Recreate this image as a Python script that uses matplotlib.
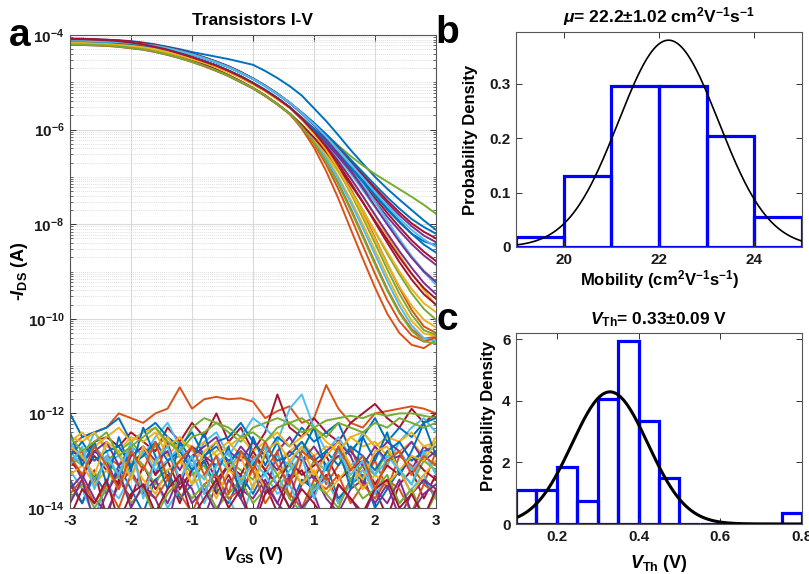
import numpy as np
import matplotlib
matplotlib.use('Agg')
import matplotlib.pyplot as plt
from matplotlib.ticker import FixedLocator, FuncFormatter, NullFormatter

plt.rcParams['font.family'] = ['Liberation Sans', 'DejaVu Sans']
plt.rcParams['font.weight'] = 'bold'
plt.rcParams['axes.labelweight'] = 'bold'
plt.rcParams['axes.titleweight'] = 'bold'
plt.rcParams['axes.unicode_minus'] = False
plt.rcParams['mathtext.fontset'] = 'custom'
plt.rcParams['mathtext.rm'] = 'Liberation Sans:bold'
plt.rcParams['mathtext.it'] = 'Liberation Sans:bold:italic'
plt.rcParams['mathtext.bf'] = 'Liberation Sans:bold'
plt.rcParams['mathtext.sf'] = 'Liberation Sans:bold'

# ---------------- data ----------------
vgs = [-3.0, -2.8, -2.6, -2.4, -2.2, -2.0, -1.8, -1.6, -1.4, -1.2, -1.0, -0.8, -0.6, -0.4, -0.2,
       0.0, 0.2, 0.4, 0.6, 0.8, 1.0, 1.2, 1.4, 1.6, 1.8, 2.0, 2.2, 2.4, 2.6, 2.8, 3.0]

# log10(-I_DS) transfer curves
ids_01 = [-4.08,-4.08,-4.09,-4.10,-4.11,-4.13,-4.16,-4.20,-4.25,-4.30,-4.36,-4.41,-4.46,-4.51,-4.57,-4.63,-4.76,-4.91,-5.08,-5.28,-5.55,-5.82,-6.12,-6.43,-6.72,-7.00,-7.25,-7.48,-7.70,-7.92,-8.12]
ids_02 = [-4.20,-4.20,-4.21,-4.22,-4.24,-4.27,-4.30,-4.35,-4.41,-4.48,-4.56,-4.65,-4.75,-4.86,-4.99,-5.12,-5.28,-5.46,-5.66,-5.98,-6.38,-6.88,-7.46,-8.10,-8.73,-9.34,-9.89,-10.30,-10.55,-10.62,-10.45]
ids_03 = [-4.15,-4.15,-4.16,-4.17,-4.19,-4.21,-4.24,-4.28,-4.33,-4.40,-4.48,-4.56,-4.65,-4.76,-4.88,-5.02,-5.17,-5.34,-5.53,-5.77,-6.03,-6.33,-6.66,-7.02,-7.41,-7.82,-8.24,-8.65,-9.04,-9.39,-9.72]
ids_04 = [-4.10,-4.10,-4.11,-4.12,-4.13,-4.15,-4.18,-4.21,-4.26,-4.32,-4.40,-4.48,-4.57,-4.67,-4.79,-4.92,-5.07,-5.24,-5.43,-5.65,-5.88,-6.13,-6.40,-6.69,-6.98,-7.27,-7.55,-7.81,-8.04,-8.24,-8.38]
ids_05 = [-4.11,-4.11,-4.12,-4.13,-4.14,-4.16,-4.19,-4.22,-4.27,-4.33,-4.41,-4.49,-4.58,-4.68,-4.80,-4.93,-5.08,-5.25,-5.43,-5.64,-5.86,-6.10,-6.34,-6.56,-6.76,-6.94,-7.10,-7.26,-7.42,-7.59,-7.78]
ids_06 = [-4.16,-4.16,-4.17,-4.18,-4.20,-4.22,-4.25,-4.29,-4.34,-4.41,-4.49,-4.57,-4.66,-4.77,-4.89,-5.03,-5.18,-5.35,-5.53,-5.76,-6.01,-6.29,-6.60,-6.93,-7.28,-7.64,-8.00,-8.35,-8.68,-8.98,-9.22]
ids_07 = [-4.09,-4.09,-4.10,-4.11,-4.12,-4.14,-4.17,-4.21,-4.26,-4.32,-4.39,-4.47,-4.56,-4.66,-4.78,-4.92,-5.07,-5.24,-5.43,-5.64,-5.87,-6.12,-6.38,-6.66,-6.95,-7.23,-7.50,-7.75,-7.98,-8.16,-8.30]
ids_08 = [-4.10,-4.10,-4.11,-4.12,-4.14,-4.16,-4.19,-4.22,-4.27,-4.33,-4.40,-4.48,-4.57,-4.67,-4.79,-4.92,-5.07,-5.24,-5.43,-5.64,-5.86,-6.10,-6.36,-6.63,-6.90,-7.17,-7.43,-7.67,-7.89,-8.06,-8.20]
ids_09 = [-4.19,-4.19,-4.20,-4.21,-4.23,-4.26,-4.29,-4.34,-4.40,-4.47,-4.55,-4.64,-4.74,-4.85,-4.98,-5.12,-5.28,-5.46,-5.66,-5.93,-6.26,-6.66,-7.13,-7.66,-8.23,-8.81,-9.37,-9.85,-10.22,-10.42,-10.38]
ids_10 = [-4.20,-4.20,-4.21,-4.22,-4.24,-4.27,-4.30,-4.35,-4.41,-4.48,-4.56,-4.65,-4.75,-4.86,-4.99,-5.12,-5.28,-5.46,-5.66,-5.91,-6.22,-6.58,-7.00,-7.48,-8.00,-8.55,-9.10,-9.62,-10.04,-10.31,-10.36]
ids_11 = [-4.15,-4.15,-4.16,-4.17,-4.19,-4.21,-4.24,-4.28,-4.33,-4.40,-4.48,-4.56,-4.65,-4.76,-4.88,-5.02,-5.17,-5.34,-5.53,-5.77,-6.04,-6.34,-6.67,-7.03,-7.41,-7.80,-8.19,-8.57,-8.92,-9.24,-9.48]
ids_12 = [-4.19,-4.19,-4.20,-4.21,-4.23,-4.26,-4.29,-4.34,-4.40,-4.47,-4.55,-4.64,-4.74,-4.86,-4.99,-5.12,-5.28,-5.46,-5.66,-5.90,-6.18,-6.50,-6.86,-7.26,-7.70,-8.16,-8.62,-9.06,-9.46,-9.79,-10.02]
ids_13 = [-4.21,-4.21,-4.22,-4.23,-4.25,-4.28,-4.31,-4.36,-4.42,-4.49,-4.57,-4.66,-4.76,-4.87,-5.00,-5.13,-5.29,-5.47,-5.66,-5.92,-6.23,-6.60,-7.04,-7.54,-8.08,-8.64,-9.20,-9.72,-10.14,-10.41,-10.47]
ids_14 = [-4.08,-4.08,-4.09,-4.10,-4.12,-4.14,-4.18,-4.23,-4.29,-4.37,-4.46,-4.55,-4.65,-4.76,-4.88,-5.02,-5.17,-5.34,-5.53,-5.75,-5.99,-6.25,-6.53,-6.83,-7.14,-7.45,-7.76,-8.06,-8.34,-8.58,-8.78]
ids_15 = [-4.14,-4.14,-4.15,-4.16,-4.18,-4.20,-4.23,-4.27,-4.32,-4.39,-4.47,-4.55,-4.64,-4.75,-4.87,-5.01,-5.16,-5.33,-5.53,-5.75,-5.98,-6.23,-6.50,-6.78,-7.07,-7.37,-7.66,-7.94,-8.20,-8.43,-8.60]
ids_16 = [-4.17,-4.17,-4.18,-4.19,-4.21,-4.23,-4.26,-4.30,-4.35,-4.42,-4.50,-4.58,-4.67,-4.78,-4.90,-5.03,-5.18,-5.35,-5.53,-5.78,-6.06,-6.40,-6.80,-7.26,-7.76,-8.29,-8.83,-9.35,-9.81,-10.16,-10.30]
ids_17 = [-4.18,-4.18,-4.19,-4.20,-4.22,-4.25,-4.28,-4.33,-4.39,-4.46,-4.54,-4.63,-4.73,-4.85,-4.98,-5.12,-5.28,-5.46,-5.66,-5.91,-6.20,-6.53,-6.90,-7.30,-7.72,-8.15,-8.58,-9.00,-9.37,-9.67,-9.86]
ids_18 = [-4.13,-4.13,-4.14,-4.15,-4.17,-4.19,-4.22,-4.26,-4.32,-4.39,-4.47,-4.56,-4.65,-4.76,-4.88,-5.02,-5.17,-5.34,-5.53,-5.76,-6.01,-6.28,-6.57,-6.88,-7.20,-7.52,-7.84,-8.14,-8.42,-8.66,-8.86]
ids_19 = [-4.16,-4.16,-4.17,-4.18,-4.20,-4.22,-4.25,-4.29,-4.34,-4.41,-4.49,-4.57,-4.66,-4.77,-4.89,-5.03,-5.18,-5.35,-5.53,-5.79,-6.08,-6.44,-6.86,-7.34,-7.86,-8.40,-8.95,-9.47,-9.91,-10.24,-10.34]
ids_20 = [-4.12,-4.12,-4.13,-4.14,-4.15,-4.17,-4.20,-4.23,-4.28,-4.34,-4.41,-4.49,-4.58,-4.68,-4.80,-4.93,-5.08,-5.25,-5.43,-5.65,-5.89,-6.16,-6.46,-6.79,-7.15,-7.53,-7.92,-8.31,-8.68,-9.01,-9.28]
ids_21 = [-4.10,-4.10,-4.11,-4.13,-4.16,-4.19,-4.23,-4.28,-4.35,-4.43,-4.52,-4.62,-4.73,-4.85,-4.98,-5.12,-5.28,-5.46,-5.66,-5.90,-6.17,-6.47,-6.80,-7.16,-7.54,-7.93,-8.32,-8.70,-9.05,-9.35,-9.58]
ids_22 = [-4.14,-4.14,-4.15,-4.16,-4.18,-4.20,-4.23,-4.27,-4.32,-4.39,-4.47,-4.55,-4.64,-4.75,-4.87,-5.01,-5.16,-5.33,-5.52,-5.75,-5.99,-6.24,-6.51,-6.80,-7.10,-7.40,-7.69,-7.96,-8.20,-8.36,-8.45]
ids_23 = [-4.21,-4.21,-4.22,-4.23,-4.25,-4.28,-4.31,-4.36,-4.42,-4.49,-4.57,-4.66,-4.76,-4.87,-5.00,-5.13,-5.29,-5.47,-5.67,-5.95,-6.30,-6.74,-7.26,-7.84,-8.45,-9.05,-9.60,-10.05,-10.35,-10.48,-10.40]
ids_24 = [-4.17,-4.17,-4.18,-4.19,-4.21,-4.23,-4.26,-4.30,-4.36,-4.43,-4.51,-4.59,-4.68,-4.79,-4.91,-5.04,-5.19,-5.36,-5.54,-5.79,-6.08,-6.43,-6.84,-7.30,-7.80,-8.32,-8.84,-9.32,-9.72,-10.02,-10.18]
ids_25 = [-4.11,-4.11,-4.12,-4.13,-4.15,-4.17,-4.20,-4.23,-4.28,-4.34,-4.41,-4.49,-4.58,-4.68,-4.80,-4.93,-5.08,-5.25,-5.44,-5.66,-5.91,-6.20,-6.52,-6.87,-7.24,-7.62,-8.00,-8.37,-8.71,-9.00,-9.22]
ids_26 = [-4.20,-4.20,-4.21,-4.22,-4.24,-4.27,-4.30,-4.35,-4.41,-4.48,-4.56,-4.65,-4.75,-4.86,-4.99,-5.12,-5.28,-5.46,-5.66,-5.94,-6.27,-6.68,-7.16,-7.70,-8.27,-8.85,-9.40,-9.88,-10.25,-10.48,-10.52]
ids_27 = [-4.12,-4.12,-4.13,-4.14,-4.15,-4.17,-4.20,-4.23,-4.28,-4.34,-4.41,-4.49,-4.58,-4.68,-4.80,-4.93,-5.08,-5.25,-5.43,-5.65,-5.89,-6.15,-6.43,-6.72,-7.02,-7.32,-7.61,-7.88,-8.12,-8.32,-8.48]
ids_28 = [-4.09,-4.09,-4.10,-4.11,-4.13,-4.16,-4.20,-4.25,-4.31,-4.39,-4.47,-4.56,-4.65,-4.76,-4.88,-5.02,-5.17,-5.34,-5.53,-5.77,-6.05,-6.37,-6.73,-7.12,-7.53,-7.96,-8.39,-8.80,-9.17,-9.48,-9.70]

# log10 of leakage currents (noise floor)
ig_01 = [-12.7,-12.5,-12.4,-12.3,-12.0,-12.1,-12.2,-12.0,-11.9,-11.45,-11.9,-11.7,-11.65,-11.7,-11.68,-11.75,-12.1,-11.95,-11.85,-12.2,-12.1,-11.4,-11.9,-12.2,-12.3,-12.0,-11.95,-11.9,-11.85,-11.9,-12.0]
ig_02 = [-12.8,-12.9,-12.6,-12.5,-12.7,-12.4,-12.6,-12.8,-12.3,-12.6,-12.2,-12.5,-12.0,-12.6,-12.3,-12.8,-12.4,-11.6,-12.3,-12.5,-12.1,-12.4,-12.6,-12.2,-12.0,-11.8,-12.1,-12.3,-11.9,-12.2,-12.0]
ig_03 = [-12.9,-13.1,-12.7,-13.0,-12.8,-12.6,-12.9,-12.7,-12.5,-12.8,-12.3,-12.1,-12.2,-12.4,-12.6,-12.3,-12.2,-12.1,-12.2,-12.1,-12.3,-12.15,-12.1,-12.05,-12.1,-12.0,-12.05,-12.0,-12.0,-12.05,-12.1]
ig_04 = [-12.6,-13.0,-12.4,-12.8,-13.4,-12.7,-12.9,-12.5,-12.2,-12.7,-13.2,-12.6,-12.4,-12.9,-12.5,-12.1,-12.3,-12.6,-11.9,-11.6,-12.3,-12.8,-12.5,-12.9,-12.4,-12.7,-13.1,-12.6,-12.3,-12.1,-12.4]
ig_05 = [-12.0,-12.5,-12.4,-12.3,-12.1,-12.6,-12.4,-12.2,-12.5,-12.7,-12.4,-12.9,-12.6,-12.5,-12.2,-12.6,-12.9,-12.5,-12.7,-12.3,-12.6,-12.4,-12.2,-12.8,-12.5,-12.1,-12.6,-12.3,-12.5,-12.2,-12.1]
ig_06 = [-12.5,-12.6,-12.4,-12.7,-12.8,-12.5,-12.6,-12.4,-12.9,-12.6,-12.7,-13.0,-12.8,-12.6,-12.9,-13.1,-12.7,-13.0,-12.8,-12.6,-12.9,-12.7,-12.8,-12.5,-12.7,-12.6,-12.9,-12.8,-12.6,-12.9,-12.5]
ig_07 = [-12.9,-13.4,-12.8,-13.0,-13.6,-12.9,-12.7,-13.3,-12.6,-13.5,-12.9,-12.7,-12.5,-13.1,-12.7,-13.0,-13.7,-12.8,-12.5,-12.9,-13.4,-12.8,-12.6,-12.9,-13.5,-12.9,-12.6,-12.8,-13.2,-12.7,-12.9]
ig_08 = [-13.5,-13.9,-13.2,-14.2,-13.4,-13.8,-13.1,-13.6,-13.3,-13.9,-13.2,-13.0,-13.7,-13.3,-13.8,-13.1,-13.5,-14.1,-13.4,-13.2,-13.7,-13.3,-13.9,-13.4,-13.1,-13.6,-14.2,-13.5,-13.2,-13.8,-13.3]
ig_09 = [-13.0,-12.8,-13.5,-12.9,-13.1,-12.7,-13.6,-13.0,-12.8,-13.4,-12.9,-13.7,-13.1,-12.8,-13.5,-12.9,-13.2,-12.8,-13.8,-13.0,-12.9,-13.5,-13.1,-12.7,-13.4,-13.0,-13.6,-12.9,-13.1,-13.5,-12.8]
ig_10 = [-12.6,-12.4,-12.7,-12.5,-12.3,-12.6,-12.4,-12.3,-12.7,-12.5,-12.8,-12.6,-12.9,-12.7,-12.5,-12.8,-12.6,-12.4,-12.7,-12.5,-12.3,-12.6,-12.8,-12.5,-12.4,-12.7,-12.5,-12.6,-12.4,-12.7,-12.6]
ig_11 = [-13.4,-13.9,-13.3,-13.7,-13.1,-13.6,-14.1,-13.4,-13.2,-13.8,-13.5,-13.0,-13.6,-13.9,-13.3,-13.7,-13.2,-13.5,-14.0,-13.4,-13.6,-13.1,-13.8,-13.5,-13.3,-14.0,-13.6,-13.2,-13.7,-13.4,-13.8]
ig_12 = [-13.2,-13.6,-14.2,-13.5,-13.8,-13.3,-13.7,-13.4,-14.0,-13.6,-13.2,-13.9,-13.4,-13.8,-14.3,-13.5,-13.3,-13.7,-13.5,-14.1,-13.6,-13.4,-13.9,-13.5,-13.2,-13.7,-13.4,-13.9,-13.6,-13.3,-13.8]
ig_13 = [-13.1,-12.9,-13.4,-13.0,-13.3,-12.8,-13.1,-13.5,-13.0,-12.9,-13.3,-13.1,-13.6,-13.0,-13.2,-13.4,-12.9,-13.3,-13.1,-13.5,-13.0,-13.2,-12.9,-13.4,-13.1,-13.3,-12.8,-13.2,-13.5,-13.0,-13.2]
ig_14 = [-13.6,-13.3,-13.8,-14.1,-13.5,-13.2,-13.7,-13.4,-13.9,-13.3,-13.6,-14.2,-13.5,-13.1,-13.6,-13.8,-13.4,-13.9,-14.2,-13.5,-13.3,-13.8,-14.1,-13.6,-13.4,-13.9,-13.5,-14.2,-13.7,-13.4,-13.6]
ig_15 = [-13.0,-13.3,-12.9,-13.2,-13.5,-13.1,-12.8,-13.3,-13.0,-13.6,-13.2,-12.9,-13.4,-13.1,-13.3,-12.8,-13.2,-13.5,-13.0,-13.3,-13.1,-12.9,-13.4,-13.2,-13.0,-13.5,-13.1,-13.3,-12.9,-13.2,-13.4]
ig_16 = [-13.7,-13.4,-13.9,-13.5,-14.0,-13.3,-13.6,-13.8,-13.4,-13.7,-14.1,-13.5,-13.3,-13.8,-13.6,-13.2,-13.9,-13.5,-13.7,-14.0,-13.4,-13.6,-13.3,-13.9,-13.5,-13.8,-13.4,-13.6,-14.1,-13.5,-13.7]
ig_17 = [-13.3,-13.1,-13.5,-13.2,-13.6,-13.0,-13.4,-13.7,-13.2,-13.0,-13.5,-13.3,-13.8,-13.2,-13.4,-13.1,-13.6,-13.3,-13.0,-13.5,-13.2,-13.7,-13.4,-13.1,-13.6,-13.3,-13.5,-13.2,-13.7,-13.3,-13.0]
ig_18 = [-12.8,-13.1,-12.7,-13.0,-12.9,-13.3,-12.8,-13.2,-13.0,-12.7,-13.1,-13.4,-12.9,-13.2,-12.8,-13.0,-13.3,-12.9,-13.1,-12.7,-13.0,-13.2,-12.8,-13.1,-12.9,-13.3,-13.0,-12.8,-13.2,-12.9,-13.1]
ig_19 = [-13.8,-13.5,-14.0,-13.6,-13.3,-13.9,-13.6,-14.2,-13.7,-13.4,-13.8,-13.5,-14.0,-13.7,-13.4,-13.9,-13.6,-13.3,-13.8,-14.1,-13.5,-13.7,-14.0,-13.4,-13.8,-13.6,-13.3,-13.9,-13.6,-14.2,-13.7]
ig_20 = [-12.7,-13.0,-12.8,-12.6,-13.1,-12.9,-12.7,-13.0,-12.8,-13.2,-12.7,-12.9,-13.1,-12.8,-13.0,-12.6,-12.9,-13.2,-12.8,-13.0,-12.7,-13.1,-12.9,-12.8,-13.1,-12.7,-13.0,-12.9,-12.6,-13.0,-12.8]
ig_21 = [-12.9,-12.6,-13.0,-12.8,-12.7,-13.1,-12.9,-12.6,-13.0,-12.8,-13.2,-12.9,-12.7,-13.0,-12.8,-13.1,-12.7,-13.0,-12.9,-12.6,-13.0,-12.8,-13.1,-12.7,-12.9,-13.2,-12.8,-12.6,-13.0,-12.8,-12.7]
ig_22 = [-12.4,-13.1,-12.6,-13.5,-12.5,-13.2,-12.3,-12.9,-13.6,-12.6,-13.0,-12.4,-13.3,-12.7,-13.8,-12.5,-13.1,-12.6,-13.4,-12.8,-12.3,-13.2,-12.7,-13.6,-12.5,-13.0,-12.4,-13.3,-12.8,-12.2,-12.9]
ig_23 = [-12.7,-12.9,-13.3,-12.6,-12.8,-13.4,-12.7,-13.1,-12.5,-12.9,-13.5,-12.8,-12.6,-13.2,-12.9,-13.6,-12.8,-12.6,-13.0,-12.7,-13.3,-12.9,-12.6,-13.1,-13.4,-12.8,-12.7,-13.2,-12.9,-13.0,-12.6]
ig_24 = [-13.9,-13.4,-14.3,-13.7,-13.2,-14.0,-13.5,-13.8,-14.4,-13.3,-13.9,-13.6,-14.1,-13.4,-13.8,-14.3,-13.5,-13.9,-13.3,-14.0,-13.7,-14.4,-13.5,-13.8,-14.2,-13.6,-13.9,-13.4,-14.1,-13.7,-13.5]
ig_25 = [-13.1,-12.7,-13.6,-12.9,-13.3,-12.6,-13.8,-13.0,-12.7,-13.4,-12.9,-13.7,-13.1,-12.8,-13.5,-13.0,-12.7,-13.6,-13.2,-12.9,-13.8,-13.1,-12.8,-13.3,-13.0,-13.7,-12.9,-13.2,-13.5,-12.8,-13.3]
ig_26 = [-12.5,-12.8,-12.6,-12.4,-12.9,-12.7,-12.5,-12.3,-12.6,-12.8,-12.5,-12.4,-12.2,-12.3,-12.5,-12.4,-12.6,-12.3,-12.2,-12.4,-12.3,-12.5,-12.2,-12.3,-12.4,-12.2,-12.3,-12.1,-12.2,-12.3,-12.2]
ig_27 = [-14.2,-13.6,-13.9,-13.4,-14.3,-13.7,-13.5,-14.1,-13.6,-13.3,-14.2,-13.8,-13.4,-14.0,-13.6,-14.4,-13.7,-13.5,-14.0,-13.6,-13.9,-14.3,-13.5,-13.8,-14.1,-13.6,-13.4,-14.0,-13.7,-14.2,-13.6]
ig_28 = [-12.9,-13.3,-12.7,-13.1,-13.6,-12.8,-13.2,-12.6,-13.4,-13.0,-12.7,-13.3,-12.9,-13.7,-12.8,-13.2,-12.6,-13.1,-13.5,-12.8,-13.0,-13.4,-12.7,-13.2,-12.9,-13.6,-13.0,-12.8,-13.3,-12.9,-13.1]

# panel b: mobility histogram (probability density)
mob_edges = [19, 20, 21, 22, 23, 24, 25]
mob_density = [0.019, 0.130, 0.296, 0.296, 0.204, 0.056]
mob_mean, mob_std = 22.2, 1.05

# panel c: threshold voltage histogram (probability density)
vth_edges = [0.10, 0.15, 0.20, 0.25, 0.30, 0.35, 0.40, 0.45, 0.50, 0.55, 0.60, 0.65, 0.70, 0.75, 0.80]
vth_density = [1.10, 1.10, 1.85, 0.74, 4.07, 5.93, 3.33, 1.48, 0, 0, 0, 0, 0, 0.37]
vth_mean, vth_std = 0.33, 0.093

# ---------------- styles ----------------
mcol = ['#0072BD', '#D95319', '#EDB120', '#7E2F8E', '#77AC30', '#4DBEEE', '#A2142F']
ids_curves = [ids_01, ids_02, ids_03, ids_04, ids_05, ids_06, ids_07, ids_08, ids_09, ids_10, ids_11,
              ids_12, ids_13, ids_14, ids_15, ids_16, ids_17, ids_18, ids_19, ids_20, ids_21,
              ids_22, ids_23, ids_24, ids_25, ids_26, ids_27, ids_28]
ig_curves = [ig_01, ig_02, ig_03, ig_04, ig_05, ig_06, ig_07, ig_08, ig_09, ig_10, ig_11,
             ig_12, ig_13, ig_14, ig_15, ig_16, ig_17, ig_18, ig_19, ig_20, ig_21,
             ig_22, ig_23, ig_24, ig_25, ig_26, ig_27, ig_28]
ig_colors = ['#D95319', '#A2142F', '#77AC30', '#4DBEEE', '#0072BD', '#EDB120', '#7E2F8E',
             '#A2142F', '#D95319', '#EDB120', '#0072BD', '#4DBEEE', '#77AC30', '#7E2F8E',
             '#A2142F', '#D95319', '#EDB120', '#4DBEEE', '#77AC30', '#7E2F8E', '#0072BD',
             '#0072BD', '#EDB120', '#7E2F8E', '#4DBEEE', '#77AC30', '#A2142F', '#D95319']

W, H = 809, 574
fig = plt.figure(figsize=(W / 100, H / 100), dpi=100)

def box(x0, y0, x1, y1):
    return [x0 / W, 1 - y1 / H, (x1 - x0) / W, (y1 - y0) / H]

spine_c = '#555555'

def style(ax):
    for s in ax.spines.values():
        s.set_color(spine_c)
        s.set_linewidth(0.8)
    ax.tick_params(which='both', direction='in', top=True, right=True, colors='#333333',
                   labelcolor='#1a1a1a', labelsize=11, pad=4)
    ax.tick_params(which='major', length=4, width=0.7)
    ax.tick_params(which='minor', length=2, width=0.5)

# ---------------- panel a ----------------
axa = fig.add_axes(box(70, 35, 436, 508))
v = np.array(vgs)
for i, c in enumerate(ig_curves):
    axa.plot(v, 10 ** np.array(c), color=ig_colors[i], lw=1.4)
for i, c in enumerate(ids_curves):
    axa.plot(v, 10 ** np.array(c), color=mcol[i % 7], lw=1.4)
axa.set_yscale('log')
axa.set_xlim(-3, 3)
axa.set_ylim(1e-14, 1e-4)
axa.set_xticks([-3, -2, -1, 0, 1, 2, 3])
axa.set_yticks([1e-14, 1e-12, 1e-10, 1e-8, 1e-6, 1e-4])
axa.yaxis.set_major_formatter(FuncFormatter(lambda y, p: r'$10^{%d}$' % int(round(np.log10(y)))))
minors = [m * 10.0 ** k for k in range(-14, -4) for m in range(1, 10) if not (m == 1 and k % 2 == 0)]
axa.yaxis.set_minor_locator(FixedLocator(minors))
axa.yaxis.set_minor_formatter(NullFormatter())
axa.grid(which='major', color='#dadada', lw=0.8, ls='-')
axa.grid(which='minor', axis='y', color='#d2d2d2', lw=0.6, ls=(0, (1, 1.5)))
axa.set_axisbelow(True)
style(axa)
axa.set_title('Transistors I-V', fontsize=12.5, pad=7)
axa.set_xlabel(r'$\mathit{V}_{\mathrm{GS}}$ (V)', fontsize=13, va='center')
axa.xaxis.set_label_coords(0.5, (508 - 555) / 473)
axa.set_ylabel(r'-$\mathit{I}_{\mathrm{DS}}$ (A)', fontsize=13, va='center')
axa.yaxis.set_label_coords((19 - 70) / 366, 0.5)

# ---------------- panel b ----------------
axb = fig.add_axes(box(516, 32, 802, 247))
axb.bar(mob_edges[:-1], mob_density, width=np.diff(mob_edges), align='edge', fill=False,
        edgecolor='#0000FF', lw=2.3)
xb = np.linspace(mob_edges[0], mob_edges[-1], 400)
axb.plot(xb, np.exp(-0.5 * ((xb - mob_mean) / mob_std) ** 2) / (mob_std * np.sqrt(2 * np.pi)),
         color='black', lw=1.2)
axb.set_xlim(19, 25)
axb.set_ylim(0, 0.395)
axb.set_xticks([20, 22, 24])
axb.set_yticks([0, 0.1, 0.2, 0.3])
axb.set_yticklabels(['0', '0.1', '0.2', '0.3'])
style(axb)
axb.set_title(r'$\mu$= 22.2$\pm$1.02 cm$^{2}$V$^{-1}$s$^{-1}$', fontsize=12.5, pad=7)
axb.set_xlabel(r'Mobility (cm$^{2}$V$^{-1}$s$^{-1}$)', fontsize=12, va='center')
axb.xaxis.set_label_coords(0.5, (247 - 280) / 215)
axb.set_ylabel('Probability Density', fontsize=12, va='center')
axb.yaxis.set_label_coords((471 - 516) / 286, 0.5)

# ---------------- panel c ----------------
axc = fig.add_axes(box(516, 333, 802, 524))
axc.bar(vth_edges[:-1], vth_density, width=np.diff(vth_edges), align='edge', fill=False,
        edgecolor='#0000FF', lw=2.3)
xc = np.linspace(vth_edges[0], vth_edges[-1], 400)
axc.plot(xc, np.exp(-0.5 * ((xc - vth_mean) / vth_std) ** 2) / (vth_std * np.sqrt(2 * np.pi)),
         color='black', lw=2.2)
axc.set_xlim(0.1, 0.8)
axc.set_ylim(0, 6.2)
axc.set_xticks([0.2, 0.4, 0.6, 0.8])
axc.set_xticklabels(['0.2', '0.4', '0.6', '0.8'])
axc.set_yticks([0, 2, 4, 6])
style(axc)
axc.set_title(r'$\mathit{V}_{\mathrm{Th}}$= 0.33$\pm$0.09 V', fontsize=12.5, pad=6)
axc.set_xlabel(r'$\mathit{V}_{\mathrm{Th}}$ (V)', fontsize=13, va='center')
axc.xaxis.set_label_coords(0.5, (524 - 563) / 191)
axc.set_ylabel('Probability Density', fontsize=12, va='center')
axc.yaxis.set_label_coords((488 - 516) / 286, (524 - 416) / 191)

# panel letters
fig.text(20 / W, 1 - 36 / H, 'a', fontsize=28, fontweight='bold', ha='center', va='center')
fig.text(447 / W, 1 - 33 / H, 'b', fontsize=28, fontweight='bold', ha='center', va='center')
fig.text(447 / W, 1 - 320 / H, 'c', fontsize=28, fontweight='bold', ha='center', va='center')

fig.savefig('out.png', dpi=100)
